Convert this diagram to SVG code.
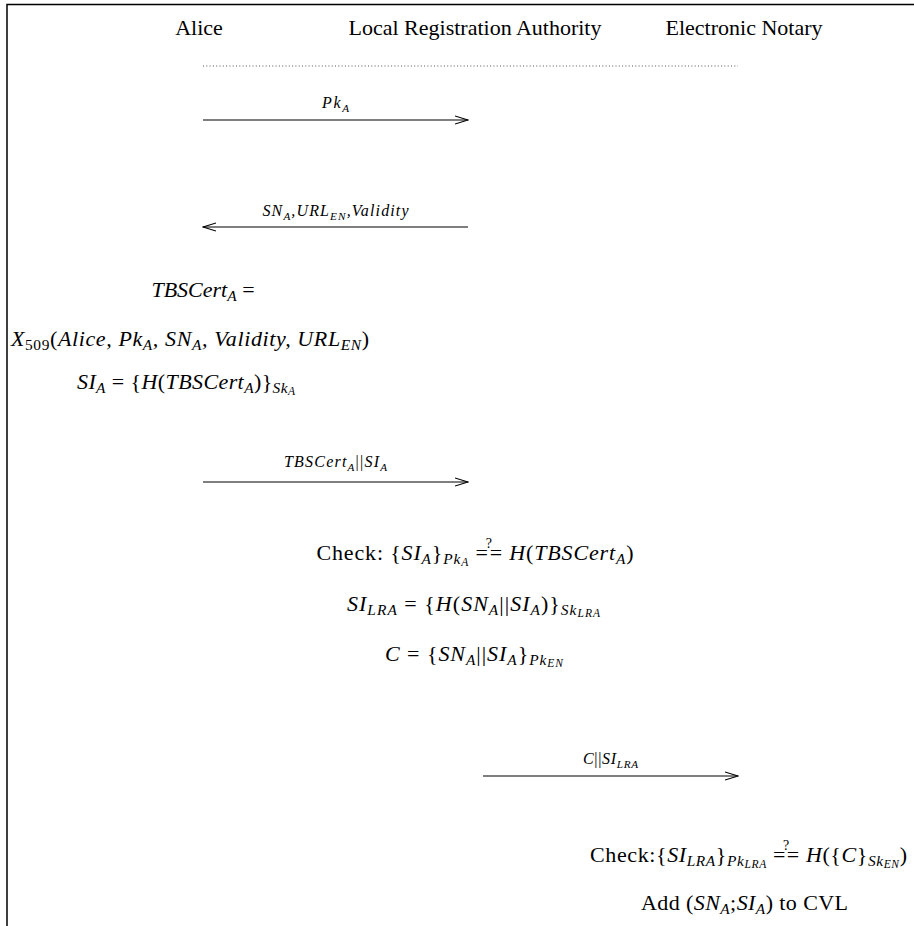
<svg xmlns="http://www.w3.org/2000/svg" width="914" height="926" viewBox="0 0 914 926">
<style>
text{font-family:'Liberation Serif','Times New Roman',serif;fill:#000;text-anchor:middle}
.h{font-size:22px}
.m{font-size:22px;font-style:italic}
.l{font-size:16px;font-style:italic}
.u{font-style:normal}
.s{font-size:70%;baseline-shift:-4px}
.ss{font-size:75%;baseline-shift:-2px}
.q{font-size:14px;font-style:normal;baseline-shift:12px}
.frame{stroke:#000;stroke-width:1.5;fill:none}
.dot{stroke:#555;stroke-width:1;stroke-dasharray:1 2.3}
.arr{stroke:#000;stroke-width:1.1;fill:none;marker-end:url(#ah)}
</style>
<defs>
<marker id="ah" viewBox="0 0 14 10" refX="13" refY="5" markerWidth="14" markerHeight="10" markerUnits="userSpaceOnUse" orient="auto">
<path d="M0,1 L13,5 L0,9" fill="none" stroke="#000" stroke-width="1.1"/>
</marker>
</defs>
<rect width="914" height="926" fill="#fff"/>
<path class="frame" d="M7,926 V4.5 H914"/>

<g id="alice"><text class="h" x="199" y="35">Alice</text></g>
<g id="lra"><text class="h" x="475" y="35">Local Registration Authority</text></g>
<g id="en"><text class="h" x="744" y="35">Electronic Notary</text></g>

<g id="connectors">
<line class="dot" x1="203" y1="66" x2="738" y2="66"/>
<line class="arr" x1="203" y1="120" x2="468" y2="120"/>
<line class="arr" x1="468" y1="227" x2="203" y2="227"/>
<line class="arr" x1="203" y1="482" x2="468" y2="482"/>
<line class="arr" x1="483" y1="776" x2="738" y2="776"/>
</g>

<g id="labels">
<text class="l" x="335.5" y="108" textLength="27" lengthAdjust="spacing">Pk<tspan class="s">A</tspan></text>
<text class="l" x="335.5" y="216" textLength="146" lengthAdjust="spacing">SN<tspan class="s">A</tspan>,URL<tspan class="s">EN</tspan>,Validity</text>
<text class="l" x="335.5" y="467" textLength="103" lengthAdjust="spacing">TBSCert<tspan class="s">A</tspan><tspan class="u">||</tspan>SI<tspan class="s">A</tspan></text>
<text class="l" x="610.5" y="764" textLength="55" lengthAdjust="spacing">C<tspan class="u">||</tspan>SI<tspan class="s">LRA</tspan></text>
</g>

<g id="alice-computation">
<text class="m" x="203" y="297">TBSCert<tspan class="s">A</tspan><tspan class="u"> =</tspan></text>
<text class="m" x="190" y="346" textLength="358" lengthAdjust="spacing">X<tspan class="s u">509</tspan><tspan class="u">(</tspan>Alice, Pk<tspan class="s">A</tspan>, SN<tspan class="s">A</tspan>, Validity, URL<tspan class="s">EN</tspan><tspan class="u">)</tspan></text>
<text class="m" x="186" y="389" textLength="218" lengthAdjust="spacing">SI<tspan class="s">A</tspan><tspan class="u"> = {</tspan>H<tspan class="u">(</tspan>TBSCert<tspan class="s">A</tspan><tspan class="u">)}</tspan><tspan class="s">Sk<tspan class="ss">A</tspan></tspan></text>
</g>

<g id="lra-computation">
<text class="m" x="475" y="560" textLength="317" lengthAdjust="spacing"><tspan class="u">Check: {</tspan>SI<tspan class="s">A</tspan><tspan class="u">}</tspan><tspan class="s">Pk<tspan class="ss">A</tspan></tspan><tspan class="u"> =</tspan><tspan class="q" dx="-3">?</tspan><tspan class="u" dx="-3">= </tspan>H<tspan class="u">(</tspan>TBSCert<tspan class="s">A</tspan><tspan class="u">)</tspan></text>
<text class="m" x="473.5" y="611" textLength="253" lengthAdjust="spacing">SI<tspan class="s">LRA</tspan><tspan class="u"> = {</tspan>H<tspan class="u">(</tspan>SN<tspan class="s">A</tspan><tspan class="u">||</tspan>SI<tspan class="s">A</tspan><tspan class="u">)}</tspan><tspan class="s">Sk<tspan class="ss">LRA</tspan></tspan></text>
<text class="m" x="474" y="661" textLength="178" lengthAdjust="spacing">C<tspan class="u"> = {</tspan>SN<tspan class="s">A</tspan><tspan class="u">||</tspan>SI<tspan class="s">A</tspan><tspan class="u">}</tspan><tspan class="s">Pk<tspan class="ss">EN</tspan></tspan></text>
</g>

<g id="en-computation">
<text class="m" x="748.5" y="862" textLength="317" lengthAdjust="spacing"><tspan class="u">Check:{</tspan>SI<tspan class="s">LRA</tspan><tspan class="u">}</tspan><tspan class="s">Pk<tspan class="ss">LRA</tspan></tspan><tspan class="u"> =</tspan><tspan class="q" dx="-3">?</tspan><tspan class="u" dx="-3">= </tspan>H<tspan class="u">({</tspan>C<tspan class="u">}</tspan><tspan class="s">Sk<tspan class="ss">EN</tspan></tspan><tspan class="u">)</tspan></text>
<text class="m" x="744.5" y="910" textLength="207" lengthAdjust="spacing"><tspan class="u">Add (</tspan>SN<tspan class="s">A</tspan><tspan class="u">;</tspan>SI<tspan class="s">A</tspan><tspan class="u">) to CVL</tspan></text>
</g>
</svg>
